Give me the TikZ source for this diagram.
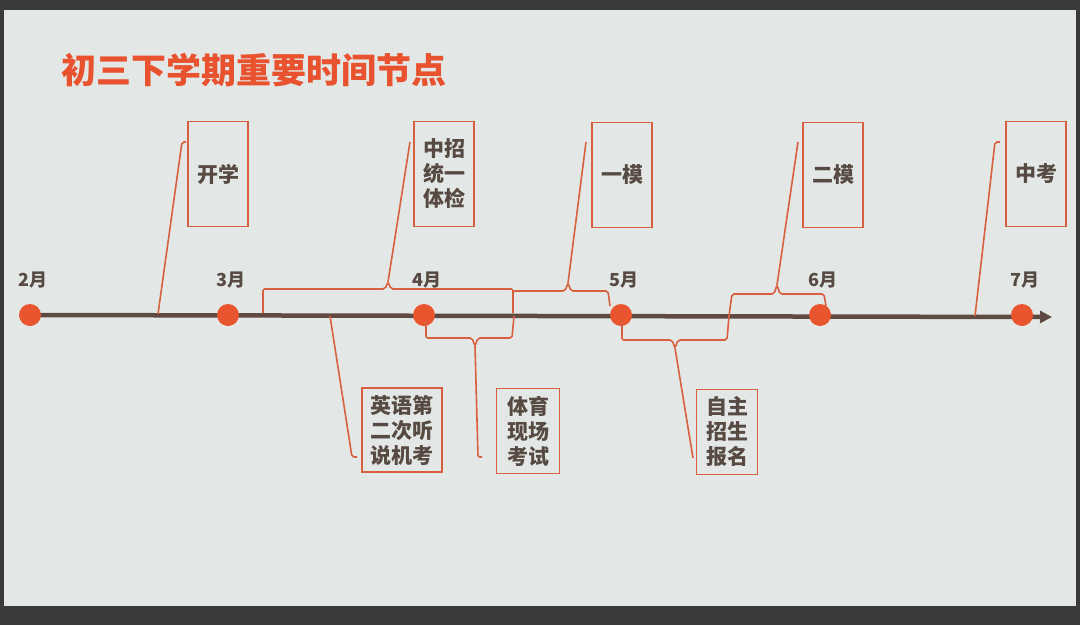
\documentclass[tikz,border=0pt]{standalone}
\usepackage{fontspec}
\setmainfont{Noto Sans CJK SC}
\usepackage{tikz}
\usetikzlibrary{arrows.meta}
\definecolor{slide}{HTML}{E3E8E6}
\definecolor{frame}{HTML}{3A3A3C}
\definecolor{title}{HTML}{E8522F}
\definecolor{dot}{HTML}{E8552E}
\definecolor{callout}{HTML}{D8603F}
\definecolor{axis}{HTML}{5E4A40}
\definecolor{ink}{HTML}{574A42}
\tikzset{
  event/.style = {draw = callout, line width = 1.6pt, minimum width = 60pt,
    minimum height = 105pt, inner sep = 0pt, font = \bfseries\fontsize{21}{25}\selectfont,
    text = ink, align = center},
  month/.style = {font = \bfseries\fontsize{18}{21}\selectfont, text = ink},
  monthdot/.style = {circle, fill = dot, minimum size = 22pt, inner sep = 0pt},
  lead/.style = {draw = callout, line width = 1.6pt, rounded corners = 2pt}
}
\begin{document}
\begin{tikzpicture}[x = 1pt, y = -1pt]
  \useasboundingbox (0,0) rectangle (1080,625);
  \fill[frame] (0,0) rectangle (1080,625);
  \fill[slide] (4,10) rectangle (1076,606);
  \node[anchor = west, text = title, font = \bfseries\fontsize{35}{40}\selectfont] (heading) at (58,70) {初三下学期重要时间节点};
  % axis
  \draw[axis, line width = 4.5pt, -{Triangle[length = 12pt, width = 12pt]}] (30,315) -- (1052,317);
  \foreach \x/\m [count = \i] in {30/2, 228/3, 424/4, 621/5, 820/6, 1022/7} {
    \node[monthdot] (m\i) at (\x,315) {};
    \node[month] (l\i) at (\x+3,280) {\m 月};
  }
  % events above
  \node[event] (kx) at (218,174) {开学};
  \node[event] (tj) at (444,174) {中招\\统一\\体检};
  \node[event] (ym) at (622,175) {一模};
  \node[event] (em) at (833,175) {二模};
  \node[event] (zk) at (1036,174) {中考};
  % events below
  \node[event, minimum width = 80pt, minimum height = 84pt] (ty) at (402,430) {英语第\\二次听\\说机考};
  \node[event, minimum width = 63pt, minimum height = 85pt] (tc) at (528,431) {体育\\现场\\考试};
  \node[event, minimum width = 61pt, minimum height = 85pt] (zz) at (727,432) {自主\\招生\\报名};
  % leaders
  \coordinate (a1) at (158,314); \coordinate (a2) at (186,142);
  \draw[lead] (a1) -- (182,142) -- (a2);
  \coordinate (b1) at (388,282); \coordinate (b2) at (410,142);
  \draw[lead] (263,313) -- (263,289) -- (385,289) -- (b1) -- (391,289) -- (513,289) -- (513,313);
  \draw[lead] (b1) -- (b2);
  \coordinate (c1) at (568,283); \coordinate (c2) at (586,142);
  \draw[lead] (513,313) -- (513,291) -- (565,291) -- (c1) -- (571,291) -- (608,291) -- (610,306);
  \draw[lead] (c1) -- (c2);
  \coordinate (d1) at (777,285); \coordinate (d2) at (798,142);
  \draw[lead] (729,316) -- (732,294) -- (774,294) -- (d1) -- (780,294) -- (824,294) -- (826,306);
  \draw[lead] (d1) -- (d2);
  \coordinate (e1) at (975,316); \coordinate (e2) at (1000,142);
  \draw[lead] (e1) -- (995,142) -- (e2);
  \coordinate (f1) at (330,316); \coordinate (f2) at (357,457);
  \draw[lead] (f1) -- (352,457) -- (f2);
  \coordinate (g1) at (475,346); \coordinate (g2) at (482,457);
  \draw[lead] (426,322) -- (426,338) -- (472,338) -- (g1) -- (478,338) -- (512,338) -- (514,316);
  \draw[lead] (g1) -- (478,457) -- (g2);
  \coordinate (h1) at (675,348); \coordinate (h2) at (693,458);
  \draw[lead] (622,322) -- (622,340) -- (672,340) -- (h1) -- (678,340) -- (727,340) -- (729,316);
  \draw[lead] (h1) -- (h2);
\end{tikzpicture}
\end{document}
